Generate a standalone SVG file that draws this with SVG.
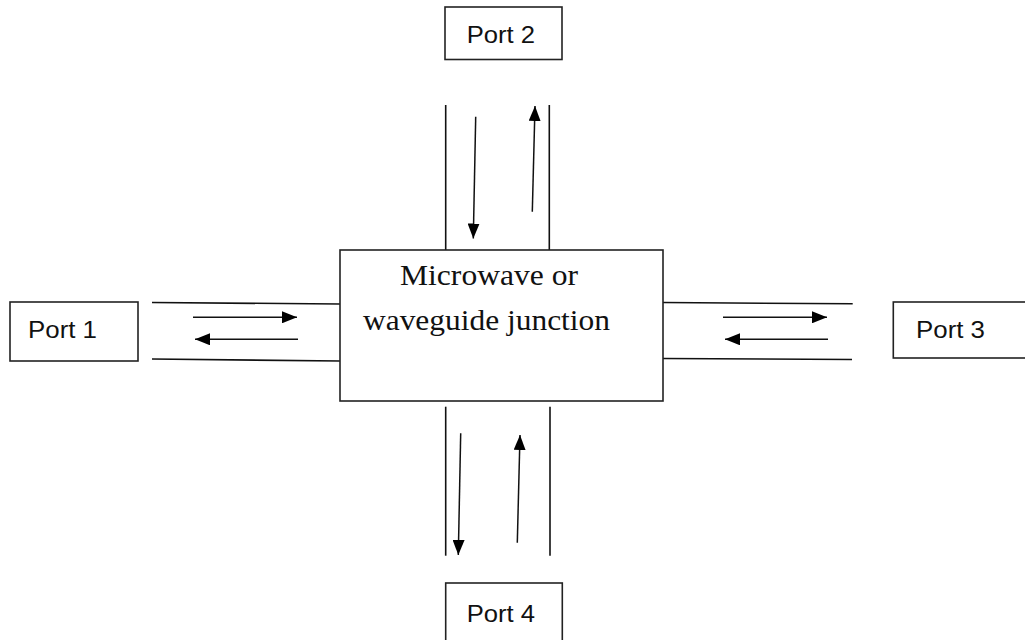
<svg xmlns="http://www.w3.org/2000/svg" width="1025" height="640" viewBox="0 0 1025 640">
<style>
.box{fill:#fff;stroke:#222;stroke-width:1.6}
.ln{stroke:#111;stroke-width:1.6;fill:none}
.ar{stroke:#111;stroke-width:1.5;fill:none;marker-end:url(#ah)}
.pt{font-family:"Liberation Sans",Arial,sans-serif;font-size:23px;fill:#111}
.mt{font-family:"Liberation Serif","Times New Roman",serif;font-size:29px;fill:#111}
</style>
<defs>
<marker id="ah" markerUnits="userSpaceOnUse" markerWidth="16" markerHeight="12" refX="15" refY="6" orient="auto">
<path d="M0,0 L15,6 L0,12 z" fill="#000"/>
</marker>
</defs>
<rect width="1025" height="640" fill="#fff"/>
<g id="connectors">
<path class="ln" d="M152,302.5 L340,304"/>
<path class="ln" d="M152,359 L340,361"/>
<path class="ar" d="M193,317.3 L297,317.3"/>
<path class="ar" d="M298,339.3 L195,339.3"/>
<path class="ln" d="M663,302.5 L852.7,303.8"/>
<path class="ln" d="M663,358.5 L852,359.5"/>
<path class="ar" d="M723,317.3 L827,317.3"/>
<path class="ar" d="M828,339.3 L725,339.3"/>
<path class="ln" d="M445.7,105 L445.7,250"/>
<path class="ln" d="M549.3,105 L549.3,250"/>
<path class="ar" d="M475.7,116.7 L473.3,238.5"/>
<path class="ar" d="M532.3,211.7 L535,106"/>
<path class="ln" d="M445.7,406.7 L445.7,555.7"/>
<path class="ln" d="M550,406.7 L550,555.7"/>
<path class="ar" d="M460.7,433.3 L458.3,555"/>
<path class="ar" d="M517.3,542.7 L520,435"/>
</g>
<g id="junction">
<rect class="box" x="340" y="250" width="323" height="151"/>
<text class="mt" x="400" y="285" textLength="178" lengthAdjust="spacingAndGlyphs">Microwave or</text>
<text class="mt" x="363" y="330" textLength="247" lengthAdjust="spacingAndGlyphs">waveguide junction</text>
</g>
<g id="port1">
<rect class="box" x="10" y="302" width="128" height="59"/>
<text class="pt" x="28" y="338.3" textLength="69" lengthAdjust="spacingAndGlyphs">Port 1</text>
</g>
<g id="port2">
<rect class="box" x="445" y="7" width="117" height="52.5"/>
<text class="pt" x="466.7" y="43" textLength="68.3" lengthAdjust="spacingAndGlyphs">Port 2</text>
</g>
<g id="port3">
<rect class="box" x="893.3" y="302" width="140" height="56"/>
<text class="pt" x="916" y="338.3" textLength="69" lengthAdjust="spacingAndGlyphs">Port 3</text>
</g>
<g id="port4">
<rect class="box" x="445.7" y="583" width="116.6" height="70"/>
<text class="pt" x="466.7" y="621.7" textLength="68.3" lengthAdjust="spacingAndGlyphs">Port 4</text>
</g>
</svg>
